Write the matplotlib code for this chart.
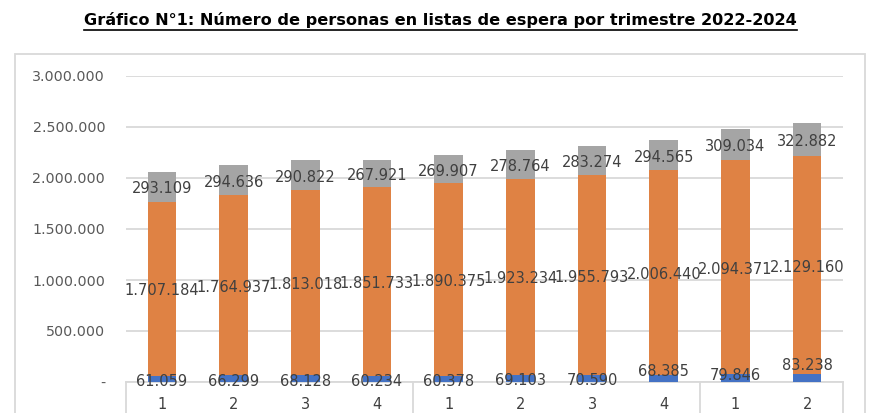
import matplotlib
matplotlib.use('Agg')
import matplotlib.pyplot as plt
from matplotlib.lines import Line2D
from matplotlib.patches import Rectangle
import numpy as np

# datos del grafico
trimestres = ['1', '2', '3', '4', '1', '2', '3', '4', '1', '2']
serie_azul = [61059, 66299, 68128, 60234, 60378, 69103, 70590, 68385, 79846, 83238]
serie_naranja = [1707184, 1764937, 1813018, 1851733, 1890375, 1923234,
                 1955793, 2006440, 2094371, 2129160]
serie_gris = [293109, 294636, 290822, 267921, 269907, 278764, 283274,
              294565, 309034, 322882]
ticks_y = [0, 500000, 1000000, 1500000, 2000000, 2500000, 3000000]
titulo = 'Gráfico N°1: Número de personas en listas de espera por trimestre 2022-2024'

# desplazamiento (en puntos) de las etiquetas azules, movidas a mano en el original
desplaz_azul = [-1.8, -1.8, -1.8, -1.8, -1.8, -1.8, -1.2, 4.7, 1.4, 8.6]


def fmt(v):
    if v == 0:
        return '-'
    return f'{v:,}'.replace(',', '.')


W, H = 877, 413
fig = plt.figure(figsize=(W / 100, H / 100), dpi=100)
ax = fig.add_axes([126 / W, 31 / H, 717 / W, 306 / H])

x = np.arange(len(trimestres))
azul = np.array(serie_azul)
naranja = np.array(serie_naranja)
gris = np.array(serie_gris)
ancho = 0.40

ax.bar(x, azul, ancho, color='#4472C4', zorder=2)
ax.bar(x, naranja, ancho, bottom=azul, color='#DF8244', zorder=2)
ax.bar(x, gris, ancho, bottom=azul + naranja, color='#A5A5A5', zorder=2)

col_txt = '#404040'
fs = 10.5
for i in range(len(x)):
    ax.annotate(fmt(serie_azul[i]), (x[i], azul[i] / 2), xytext=(0, desplaz_azul[i]),
                textcoords='offset points', ha='center', va='center',
                fontsize=fs, color=col_txt, zorder=3)
    ax.annotate(fmt(serie_naranja[i]), (x[i], azul[i] + naranja[i] / 2), xytext=(0, -1.5),
                textcoords='offset points', ha='center', va='center',
                fontsize=fs, color=col_txt, zorder=3)
    ax.annotate(fmt(serie_gris[i]), (x[i], azul[i] + naranja[i] + gris[i] / 2),
                xytext=(0, -1.5), textcoords='offset points', ha='center', va='center',
                fontsize=fs, color=col_txt, zorder=3)

ax.set_xlim(-0.5, len(x) - 0.5)
ax.set_ylim(0, 3000000)
ax.set_yticks(ticks_y, [fmt(t) for t in ticks_y])
ax.set_xticks(x, trimestres)
ax.tick_params(axis='y', length=0, pad=15, labelsize=10.3, labelcolor='#595959')
ax.tick_params(axis='x', length=0, pad=11, labelsize=10.5, labelcolor=col_txt)
ax.yaxis.grid(True, color='#D9D9D9', lw=1.3, zorder=0)
for s in ax.spines.values():
    s.set_visible(False)

# separadores de grupos (años) del eje de categorias
for xs in [-0.5, 3.5, 7.5, 9.5]:
    ax.plot([xs, xs], [0, -600000], color='#D9D9D9', lw=1.3, clip_on=False, zorder=1)
ax.plot([-0.5, 9.5], [0, 0], color='#D9D9D9', lw=1.3, clip_on=False, zorder=1)

# marco exterior del grafico
fig.add_artist(Rectangle((15 / W, -0.2), 850 / W, (H - 54) / H + 0.2,
                         transform=fig.transFigure, fill=False,
                         ec='#D9D9D9', lw=1.3, clip_on=False))

t = fig.text(440.5 / W, 1 - 20 / H, titulo, ha='center', va='center',
             fontsize=11.6, weight='bold', color='black')
fig.canvas.draw()
bb = t.get_window_extent()
fig.add_artist(Line2D([bb.x0 / W, bb.x1 / W], [(bb.y0 - 1.5) / H, (bb.y0 - 1.5) / H],
                      transform=fig.transFigure, color='black', lw=1.2))

fig.savefig('out.png', dpi=100)
